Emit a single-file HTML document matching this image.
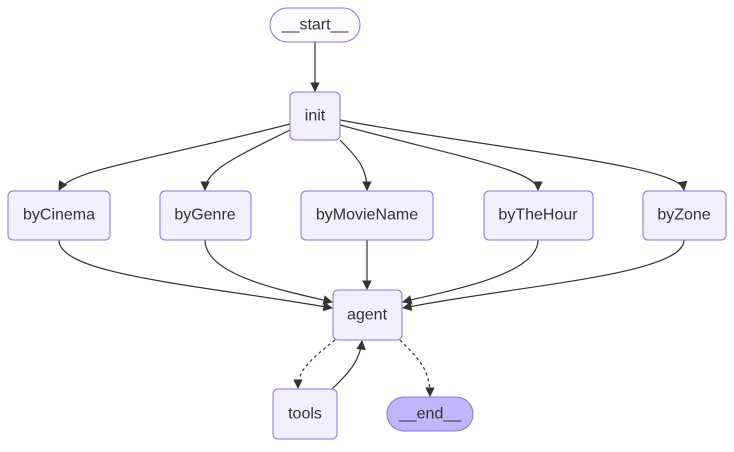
<!DOCTYPE html>
<html><head><style>
html,body{margin:0;padding:0;background:#fff;}
text{font-family:"Liberation Sans",sans-serif;font-size:16px;fill:#333;text-anchor:middle;dominant-baseline:central;}
.n{fill:#F2F0FF;stroke:#9370DB;stroke-width:1;}
.e{fill:none;stroke:#333;stroke-width:1.2;}
.d{fill:none;stroke:#333;stroke-width:1.2;stroke-dasharray:3 3;}
</style></head><body>
<svg width="734" height="447" viewBox="0 0 734 447" xmlns="http://www.w3.org/2000/svg">
<defs><marker id="a" viewBox="0 0 10 10" refX="9" refY="5" markerWidth="8" markerHeight="8" orient="auto-start-reverse"><path d="M0,0L10,5L0,10z" fill="#333"/></marker></defs>
<path class="e" d="M315,42V91" marker-end="url(#a)"/>
<path class="e" d="M290,124C150,160 70,170 59,190" marker-end="url(#a)"/>
<path class="e" d="M290,130C240,155 205,170 205,190" marker-end="url(#a)"/>
<path class="e" d="M340,140C360,160 367,170 367,190" marker-end="url(#a)"/>
<path class="e" d="M340,125C450,155 538,170 538,190" marker-end="url(#a)"/>
<path class="e" d="M340,120C500,150 680,165 684,190" marker-end="url(#a)"/>
<path class="e" d="M59,240C59,275 200,285 332,308" marker-end="url(#a)"/>
<path class="e" d="M205,240C205,275 280,290 332,302" marker-end="url(#a)"/>
<path class="e" d="M367,240V289" marker-end="url(#a)"/>
<path class="e" d="M538,240C538,275 450,290 403,302" marker-end="url(#a)"/>
<path class="e" d="M684,240C684,275 520,285 403,308" marker-end="url(#a)"/>
<path class="d" d="M335,340C310,360 298,370 298,388" marker-end="url(#a)"/>
<path class="e" d="M332,389C350,372 360,360 362,341" marker-end="url(#a)"/>
<path class="d" d="M400,340C420,360 430,370 430,396" marker-end="url(#a)"/>
<rect x="270" y="8" width="90" height="34" rx="17" fill="#FCFBFF" stroke="#9370DB"/><text x="315" y="25">__start__</text>
<rect class="n" x="290" y="92" width="50" height="48" rx="5"/><text x="315" y="116">init</text>
<rect class="n" x="8" y="191" width="102" height="49" rx="5"/><text x="59" y="215">byCinema</text>
<rect class="n" x="160" y="191" width="91" height="49" rx="5"/><text x="205" y="215">byGenre</text>
<rect class="n" x="301" y="191" width="132" height="49" rx="5"/><text x="367" y="215">byMovieName</text>
<rect class="n" x="484" y="191" width="109" height="49" rx="5"/><text x="538" y="215">byTheHour</text>
<rect class="n" x="643" y="191" width="83" height="49" rx="5"/><text x="684" y="215">byZone</text>
<rect class="n" x="333" y="290" width="69" height="50" rx="5"/><text x="367" y="315">agent</text>
<rect class="n" x="273" y="389" width="64" height="50" rx="5"/><text x="305" y="414">tools</text>
<rect x="387" y="397" width="86" height="34" rx="17" fill="#BFB6FC" stroke="#9370DB"/><text x="430" y="414">__end__</text>
</svg>
</body></html>
